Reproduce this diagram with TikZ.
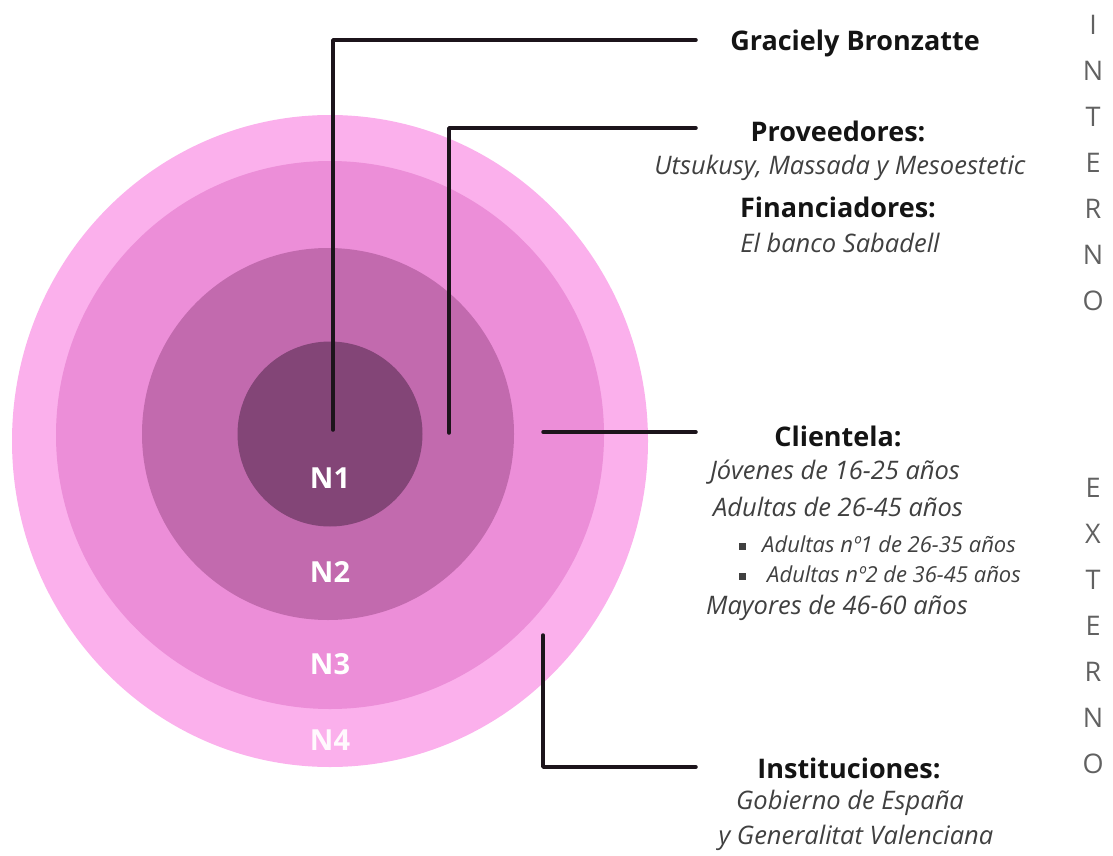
\documentclass[tikz,border=0pt]{standalone}
\usepackage{fontspec}
\setmainfont{Open Sans}
\usepackage{xcolor}
\usetikzlibrary{positioning}
\definecolor{ringfour}{HTML}{FBB0EC}
\definecolor{ringthree}{HTML}{EC8ED8}
\definecolor{ringtwo}{HTML}{C26AAE}
\definecolor{ringone}{HTML}{834577}
\definecolor{leadcol}{HTML}{1C141B}

\begin{document}
\begin{tikzpicture}[
x=1pt, y=-1pt,
head/.style={font=\fontsize{27}{32}\selectfont\bfseries, text=black!92, inner sep=0pt},
item/.style={font=\fontsize{25.5}{30}\selectfont\itshape, text=black!75, inner sep=0pt},
subitem/.style={font=\fontsize{22}{26}\selectfont\itshape, text=black!75, inner sep=0pt, anchor=west},
level/.style={font=\fontsize{29}{34}\selectfont\bfseries, text=white, inner sep=0pt},
side/.style={font=\fontsize{27}{46}\selectfont, text=black!62, align=center, inner sep=0pt},
leader/.style={line width=3.5pt, draw=leadcol, line cap=round, line join=round}
]
\useasboundingbox (0,0) rectangle (1113,856);

\fill[ringfour] (330,441) ellipse [x radius=318, y radius=326];
\fill[ringthree] (330,435) circle [radius=274];
\fill[ringtwo] (328,434) circle [radius=186];
\fill[ringone] (330,434) circle [radius=92.5];

\node[level] (n1) at (330,478) {N1};
\node[level] (n2) at (330,572) {N2};
\node[level] (n3) at (330,664) {N3};
\node[level, text=white!92!ringfour] (n4) at (330,740) {N4};

\node[head] (grac) at (855,43) {Graciely Bronzatte};
\node[head] (prov) at (838,131) {Proveedores:};
\node[item] (provlist) at (840,168) {Utsukusy, Massada y Mesoestetic};
\node[head] (fin) at (838,207) {Financiadores:};
\node[item] (finlist) at (840,243) {El banco Sabadell};

\node[head] (cli) at (838,436) {Clientela:};
\node[item] (jov) at (835,472) {Jóvenes de 16-25 años};
\node[item] (adu) at (838,507) {Adultas de 26-45 años};
\node[subitem] (adua) at (739,544) {\rule[2pt]{7pt}{7pt}\hspace{16pt}Adultas nº1 de 26-35 años};
\node[subitem] (adub) at (739,574) {\rule[2pt]{7pt}{7pt}\hspace{21pt}Adultas nº2 de 36-45 años};
\node[item] (may) at (837,608) {Mayores de 46-60 años};

\node[head] (inst) at (849,768) {Instituciones:};
\node[item] (gob) at (850,803) {Gobierno de España};
\node[item] (gen) at (856,838) {y Generalitat Valenciana};

\node[side] (interno) at (1093,163) {I\\N\\T\\E\\R\\N\\O};
\node[side] (externo) at (1093,626) {E\\X\\T\\E\\R\\N\\O};

\coordinate (p1) at (333,430);
\coordinate (e1) at (696,40);
\coordinate (p2) at (449,433);
\coordinate (e2) at (696,128);
\coordinate (p3) at (543,432);
\coordinate (e3) at (696,432);
\coordinate (p4) at (543,635);
\coordinate (e4) at (696,767);

\draw[leader] (p1) |- (e1);
\draw[leader] (p2) |- (e2);
\draw[leader] (p3) -- (e3);
\draw[leader] (p4) |- (e4);
\end{tikzpicture}
\end{document}
